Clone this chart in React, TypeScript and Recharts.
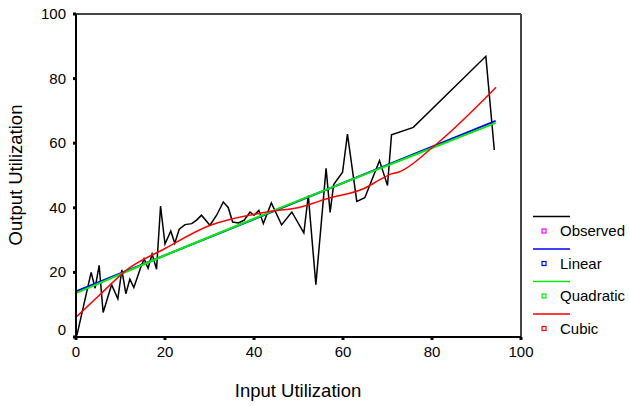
import React from "react";
import { LineChart, Line, XAxis, YAxis, ReferenceLine } from "recharts";

// observed points (input utilization -> output utilization)
const obsX = [
  0.2, 3.4, 4.3, 5.2, 6.1, 8.0, 9.4, 10.3, 11.2, 12.1, 13.0, 14.4, 15.3, 16.2, 17.1, 18.1, 19.0, 20.0,
  21.3, 22.2, 23.2, 24.5, 26.0, 27.1, 28.2, 30.1, 31.6, 33.1, 34.2, 35.2, 36.5, 37.8, 39.1, 40.0, 41.1,
  42.1, 43.9, 46.2, 48.5, 51.2, 52.2, 53.9, 56.2, 57.1, 57.9, 59.9, 61.0, 63.1, 64.9, 68.2, 70.0, 70.9,
  75.8, 92.1, 94.0,
];
const obsY = [
  0.5, 20.0, 15.1, 22.2, 7.6, 16.2, 11.8, 20.8, 13.4, 17.9, 15.3, 21.0, 24.2, 21.3, 25.7, 21.0, 40.5, 28.8,
  32.8, 29.0, 33.4, 34.8, 35.1, 36.2, 37.7, 34.6, 37.7, 41.8, 40.1, 35.6, 35.3, 36.2, 38.7, 37.7, 39.2,
  35.1, 41.5, 34.7, 38.7, 32.2, 43.8, 16.2, 52.2, 38.6, 47.2, 51.0, 62.8, 42.0, 43.1, 54.6, 46.9, 62.6,
  64.9, 86.9, 57.9,
];

const linearX = [0, 94.3];
const linearY = [14.1, 66.9];

const quadX = [0, 20, 47, 75, 94.3];
const quadY = [13.6, 25.3, 40.6, 55.8, 66.3];

const cubicX = [0.2, 5, 11.4, 20, 30, 42.9, 50.3, 57.1, 64.6, 68.3, 70.9, 72.4, 80.3, 94.4];
const cubicY = [6.4, 12.6, 20.8, 27.4, 34.5, 38.7, 40.2, 43.1, 45.9, 48.7, 50.5, 51.0, 58.9, 77.3];

const xTicks = [0, 20, 40, 60, 80, 100];
const yTicks = [0, 20, 40, 60, 80, 100];

const seriesNames = ["Observed", "Linear", "Quadratic", "Cubic"];
const lineColors = ["#000000", "#0000ff", "#00f000", "#ff0000"];
const markerColors = ["#ff00ff", "#0000ff", "#00f000", "#ff0000"];

const font = "'Liberation Sans', Arial, sans-serif";

const toPoints = (xs: number[], ys: number[]) => xs.map((x, i) => ({ x, y: ys[i] }));

const observed = toPoints(obsX, obsY);
const linear = toPoints(linearX, linearY);
const quadratic = toPoints(quadX, quadY);
const cubic = toPoints(cubicX, cubicY);

// y tick labels; the "0" sits a bit higher like the original
const YTick = (props: any) => {
  const { x, y, payload } = props;
  const shift = payload.value === 0 ? -2 : 5;
  return (
    <text x={x} y={y + shift} textAnchor="end" fontSize={15} fontFamily={font} fill="#000">
      {payload.value}
    </text>
  );
};

const LegendBox = () => (
  <svg width={100} height={140}>
    {seriesNames.map((name, i) => {
      const top = i * 32.5;
      return (
        <g key={name}>
          <line x1={3} x2={40} y1={top + 1.5} y2={top + 1.5} stroke={lineColors[i]} strokeWidth={1.5} />
          <rect x={12} y={top + 14} width={4} height={4} fill="none" stroke={markerColors[i]} strokeWidth={1.2} />
          <text x={30} y={top + 21} fontSize={15} fontFamily={font} fill="#000">
            {name}
          </text>
        </g>
      );
    })}
  </svg>
);

export default function App() {
  return (
    <div style={{ position: "absolute", left: 0, top: 0, width: 629, height: 406, background: "#fff" }}>
      <LineChart width={629} height={406} margin={{ top: 14, right: 108, bottom: 39, left: 16 }}>
        <XAxis
          type="number"
          dataKey="x"
          domain={[0, 100]}
          ticks={xTicks}
          allowDuplicatedCategory={false}
          height={30}
          axisLine={{ stroke: "#000", strokeWidth: 2 }}
          tickLine={{ stroke: "#000", strokeWidth: 3 }}
          tickSize={3}
          tickMargin={6}
          tick={{ fontSize: 15, fill: "#000", fontFamily: font }}
        />
        <YAxis
          type="number"
          dataKey="y"
          domain={[0, 100]}
          ticks={yTicks}
          width={60}
          axisLine={{ stroke: "#000", strokeWidth: 2 }}
          tickLine={{ stroke: "#000", strokeWidth: 3 }}
          tickSize={3}
          tickMargin={7}
          tick={<YTick />}
        />
        <ReferenceLine y={100} stroke="#444" strokeWidth={2} />
        <ReferenceLine x={100} stroke="#444" strokeWidth={2} />
        <Line data={observed} dataKey="y" name="Observed" stroke={lineColors[0]} strokeWidth={1.5} dot={false} isAnimationActive={false} />
        <Line data={linear} dataKey="y" name="Linear" stroke={lineColors[1]} strokeWidth={2} dot={false} isAnimationActive={false} />
        <Line data={quadratic} dataKey="y" name="Quadratic" type="monotone" stroke={lineColors[2]} strokeWidth={2} dot={false} isAnimationActive={false} />
        <Line data={cubic} dataKey="y" name="Cubic" type="monotone" stroke={lineColors[3]} strokeWidth={1.5} dot={false} isAnimationActive={false} />
      </LineChart>
      <div style={{ position: "absolute", left: 530, top: 215 }}>
        <LegendBox />
      </div>
      <div
        style={{
          position: "absolute",
          left: 16,
          top: 175,
          transform: "translate(-50%, -50%) rotate(-90deg)",
          whiteSpace: "nowrap",
          fontFamily: font,
          fontSize: 18.5,
        }}
      >
        Output Utilization
      </div>
      <div
        style={{
          position: "absolute",
          left: 298,
          top: 391,
          transform: "translate(-50%, -50%)",
          whiteSpace: "nowrap",
          fontFamily: font,
          fontSize: 18.5,
        }}
      >
        Input Utilization
      </div>
    </div>
  );
}
